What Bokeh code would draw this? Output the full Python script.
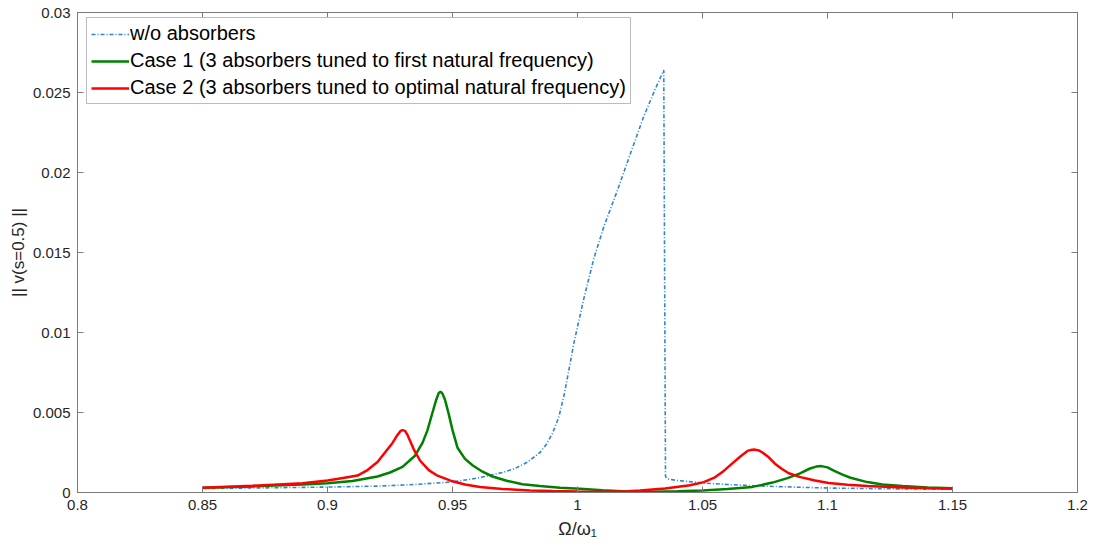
from bokeh.plotting import figure
from bokeh.models import Range1d, FixedTicker, LinearAxis, Legend
from bokeh.embed import file_html
from bokeh.resources import INLINE

# ---- data ----
blue_x = [0.85, 0.87, 0.89, 0.90, 0.92, 0.935, 0.95, 0.96, 0.97, 0.975, 0.98, 0.985,
          0.9875, 0.990, 0.9925, 0.9945, 0.9965, 0.9985, 1.0025, 1.0065, 1.0105, 1.0160,
          1.0212, 1.0265, 1.0305, 1.0345, 1.0352, 1.036, 1.04, 1.05, 1.06, 1.07, 1.08,
          1.09, 1.10, 1.12, 1.14, 1.15]
blue_y = [0.00025, 0.00028, 0.00032, 0.00034, 0.00040, 0.00050, 0.00066, 0.00090, 0.00125,
          0.0015, 0.0019, 0.0025, 0.0030, 0.0037, 0.0047, 0.0060, 0.0076, 0.0093, 0.0121,
          0.0146, 0.0166, 0.0189, 0.0212, 0.0235, 0.0250, 0.0264, 0.0010, 0.00085, 0.00075,
          0.00060, 0.00050, 0.00043, 0.00037, 0.00032, 0.00028, 0.00024, 0.00021, 0.00020]

green_x = [0.85, 0.87, 0.89, 0.90, 0.91, 0.92, 0.925, 0.93, 0.935, 0.938, 0.940, 0.942,
           0.9435, 0.9445, 0.9452, 0.946, 0.947, 0.9485, 0.950, 0.952, 0.955, 0.958, 0.962,
           0.966, 0.972, 0.978, 0.985, 0.993, 1.001, 1.01, 1.02, 1.03, 1.04, 1.05, 1.06,
           1.07, 1.078, 1.084, 1.089, 1.093, 1.0955, 1.0975, 1.10, 1.1025, 1.106, 1.1092,
           1.1159, 1.122, 1.13, 1.14, 1.15]
green_y = [0.00030, 0.00038, 0.00050, 0.00058, 0.00072, 0.00100, 0.00125, 0.00160, 0.0023,
           0.0031, 0.0039, 0.0050, 0.0058, 0.00622, 0.0063, 0.00618, 0.0058, 0.0049, 0.0039,
           0.0028, 0.0021, 0.0017, 0.0013, 0.0010, 0.00072, 0.00052, 0.00040, 0.00030,
           0.00023, 0.00014, 0.00007, 0.00005, 0.00008, 0.00013, 0.00022, 0.00035, 0.00062,
           0.00090, 0.00120, 0.00150, 0.00162, 0.00165, 0.00157, 0.00137, 0.00112, 0.00092,
           0.00065, 0.00050, 0.00040, 0.00032, 0.00027]

red_x = [0.85, 0.87, 0.89, 0.90, 0.905, 0.912, 0.916, 0.92, 0.923, 0.926, 0.928, 0.9292,
         0.930, 0.931, 0.932, 0.9345, 0.937, 0.9405, 0.944, 0.95, 0.955, 0.961, 0.97, 0.981,
         0.99, 1.0, 1.01, 1.02, 1.025, 1.035, 1.045, 1.0505, 1.055, 1.0585, 1.0625, 1.0655,
         1.068, 1.0698, 1.071, 1.0725, 1.074, 1.0765, 1.079, 1.0815, 1.0845, 1.0892, 1.095,
         1.1005, 1.108, 1.116, 1.13, 1.15]
red_y = [0.00030, 0.00042, 0.00058, 0.00075, 0.00088, 0.00106, 0.0014, 0.0019, 0.0025,
         0.0031, 0.0036, 0.00385, 0.0039, 0.00385, 0.0036, 0.0027, 0.0020, 0.0014, 0.00105,
         0.00070, 0.00050, 0.00034, 0.00022, 0.00013, 0.00009, 0.00006, 0.00005, 0.00008,
         0.00012, 0.00025, 0.00045, 0.00065, 0.00095, 0.00135, 0.0019, 0.0023, 0.0026,
         0.00267, 0.00268, 0.00263, 0.0025, 0.0022, 0.0018, 0.0015, 0.0012, 0.00096, 0.00075,
         0.00060, 0.00048, 0.00040, 0.00031, 0.00023]

x_ticks = [0.8, 0.85, 0.9, 0.95, 1.0, 1.05, 1.1, 1.15, 1.2]
x_tick_labels = ["0.8", "0.85", "0.9", "0.95", "1", "1.05", "1.1", "1.15", "1.2"]
y_ticks = [0, 0.005, 0.01, 0.015, 0.02, 0.025, 0.03]
y_tick_labels = ["0", "0.005", "0.01", "0.015", "0.02", "0.025", "0.03"]

legend_labels = ["w/o absorbers",
                 "Case 1 (3 absorbers tuned to first natural frequency)",
                 "Case 2 (3 absorbers tuned to optimal natural frequency)"]

FONT = "Liberation Sans"
AX = "#262626"
FRAME = "#7a7a7a"

p = figure(width=1100, height=550, output_backend="svg", toolbar_location=None,
           x_range=Range1d(0.8, 1.2), y_range=Range1d(0, 0.03),
           min_border_left=77, min_border_right=23, min_border_top=12, min_border_bottom=58)
p.background_fill_color = "white"
p.border_fill_color = "white"
p.outline_line_color = FRAME
p.outline_line_width = 1
p.xgrid.visible = False
p.ygrid.visible = False

r_blue = p.line(blue_x, blue_y, line_color="#2b86d0", line_width=1.6, line_dash="4 2 1 2")
r_green = p.line(green_x, green_y, line_color="#008000", line_width=2.5)
r_red = p.line(red_x, red_y, line_color="#ff0000", line_width=2.5)

def style_axis(ax, ticks, labels, show_labels=True):
    ax.ticker = FixedTicker(ticks=ticks)
    ax.major_label_overrides = {t: l for t, l in zip(ticks, labels)}
    ax.major_tick_in = 6
    ax.major_tick_out = 0
    ax.minor_tick_line_color = None
    ax.axis_line_color = FRAME
    ax.major_tick_line_color = FRAME
    ax.major_label_text_font = FONT
    ax.major_label_text_font_size = "15px" if show_labels else "0px"
    ax.major_label_text_color = AX
    ax.major_label_standoff = 7

xa = p.xaxis[0]
style_axis(xa, x_ticks, x_tick_labels)
xa.axis_label = "Ω/ω₁"
xa.axis_label_text_font = FONT
xa.axis_label_text_font_size = "18px"
xa.axis_label_text_font_style = "normal"
xa.axis_label_text_color = AX
xa.axis_label_standoff = 6

ya = p.yaxis[0]
style_axis(ya, y_ticks, y_tick_labels)
ya.axis_label = "|| v(s=0.5) ||"
ya.axis_label_text_font = FONT
ya.axis_label_text_font_size = "17px"
ya.axis_label_text_font_style = "normal"
ya.axis_label_text_color = AX
ya.axis_label_standoff = 2

top = LinearAxis()
style_axis(top, x_ticks, ["" for _ in x_ticks], show_labels=False)
top.major_label_standoff = 0
p.add_layout(top, "above")
right = LinearAxis()
style_axis(right, y_ticks, ["" for _ in y_ticks], show_labels=False)
right.major_label_standoff = 0
p.add_layout(right, "right")

legend = Legend(items=[(legend_labels[0], [r_blue]), (legend_labels[1], [r_green]),
                       (legend_labels[2], [r_red])],
                location=(9, 388))
legend.label_text_font = FONT
legend.label_text_font_size = "20px"
legend.label_text_color = "black"
legend.glyph_width = 38
legend.glyph_height = 20
legend.label_height = 20
legend.label_standoff = 1
legend.spacing = 4
legend.padding = 4
legend.margin = 0
legend.border_line_color = FRAME
legend.border_line_width = 1
legend.background_fill_alpha = 1
p.add_layout(legend, "center")

open("out.html", "w").write(file_html(p, INLINE))
